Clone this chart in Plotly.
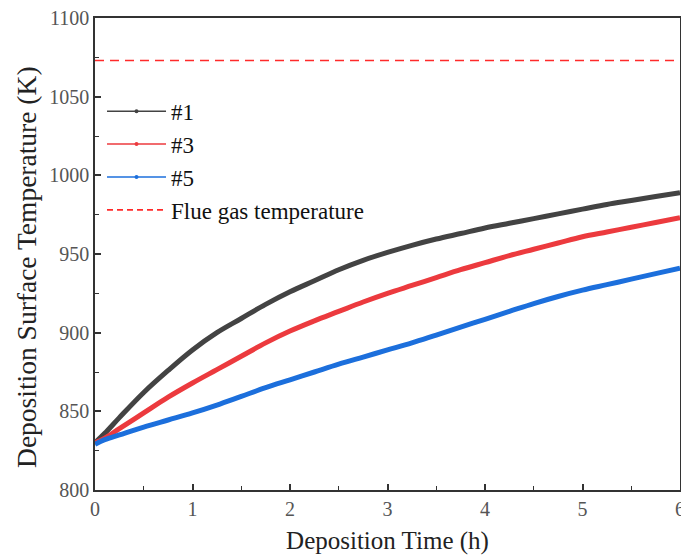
import plotly.graph_objects as go

time_h = [0, 0.1, 0.25, 0.5, 0.75, 1, 1.25, 1.5, 1.75, 2, 2.25, 2.5, 2.75, 3,
          3.25, 3.5, 3.75, 4, 4.25, 4.5, 4.75, 5, 5.25, 5.5, 5.75, 6]
temp_1 = [830, 836, 846, 862, 876, 889, 900, 909, 918, 926, 933, 940, 946, 951,
          955.5, 959.5, 963, 966.5, 969.5, 972.5, 975.5, 978.5, 981.5, 984, 986.5, 989]
temp_3 = [830, 833, 839, 849, 859, 868, 876.5, 885, 893.5, 901, 907.5, 913.5, 919.5, 925,
          930, 935, 940, 944.5, 949, 953, 957, 961, 964, 967, 970, 973]
temp_5 = [829, 832, 835, 840, 844.5, 849, 854, 859.5, 865, 870, 875, 880, 884.5, 889,
          893.5, 898.5, 903.5, 908.5, 913.5, 918.5, 923, 927, 930.5, 934, 937.5, 941]
flue_x = [0, 6]
flue_t = [1073, 1073]

names = ["#1", "#3", "#5"]
colors = ["#434343", "#ec3a3e", "#1c6fdc"]
series = [temp_1, temp_3, temp_5]

FONT = "Liberation Serif, Times New Roman, serif"

fig = go.Figure()
for nm, col, ys in zip(names, colors, series):
    fig.add_trace(go.Scatter(x=time_h, y=ys, mode="lines", line=dict(color=col, width=5, shape="spline"),
                             showlegend=False, hoverinfo="skip"))
fig.add_trace(go.Scatter(x=flue_x, y=flue_t, mode="lines", line=dict(color="#ff2a2a", width=1.6, dash="9px,6px"),
                         showlegend=False))
# legend entries
for nm, col in zip(names, colors):
    fig.add_trace(go.Scatter(x=[None], y=[None], mode="lines+markers", name=nm,
                             line=dict(color=col, width=1.5), marker=dict(color=col, size=4)))
fig.add_trace(go.Scatter(x=[None], y=[None], mode="lines", name="Flue gas temperature",
                         line=dict(color="#ff2a2a", width=1.6, dash="6px,4px")))

axis_common = dict(showline=True, linecolor="#333333", linewidth=1.5, mirror=True,
                   ticks="inside", ticklen=6, tickwidth=1.5, tickcolor="#333333",
                   showgrid=False, zeroline=False, automargin=False, ticklabeloverflow="allow",
                   tickfont=dict(family=FONT, size=20, color="#555555"))

fig.update_xaxes(range=[0, 6], dtick=1, tick0=0,
                 minor=dict(dtick=0.5, ticks="inside", ticklen=4, tickwidth=1.2, tickcolor="#333333"),
                 title=dict(text="Deposition Time (h)", font=dict(family=FONT, size=25, color="#222222"), standoff=13),
                 **axis_common)
fig.update_yaxes(range=[800, 1100], dtick=50, tick0=800,
                 minor=dict(dtick=25, ticks="inside", ticklen=4, tickwidth=1.2, tickcolor="#333333"),
                 **axis_common)

fig.add_annotation(text="Deposition Surface Temperature (K)", textangle=-90,
                   xref="paper", yref="paper", x=0, y=0.4725, xshift=-68,
                   xanchor="center", yanchor="middle", showarrow=False,
                   font=dict(family=FONT, size=27.5, color="#222222"))

fig.update_layout(
    width=681, height=555,
    margin=dict(l=95, r=1, t=18, b=65),
    plot_bgcolor="white", paper_bgcolor="white",
    legend=dict(x=0.012, y=0.848, xanchor="left", yanchor="top", bgcolor="rgba(0,0,0,0)",
                font=dict(family=FONT, size=23, color="#111111"), tracegroupgap=0, itemwidth=59),
)

fig.write_html("out.html", config={"displayModeBar": False},
               post_script="document.body.style.margin='0';document.body.style.overflow='hidden';")
